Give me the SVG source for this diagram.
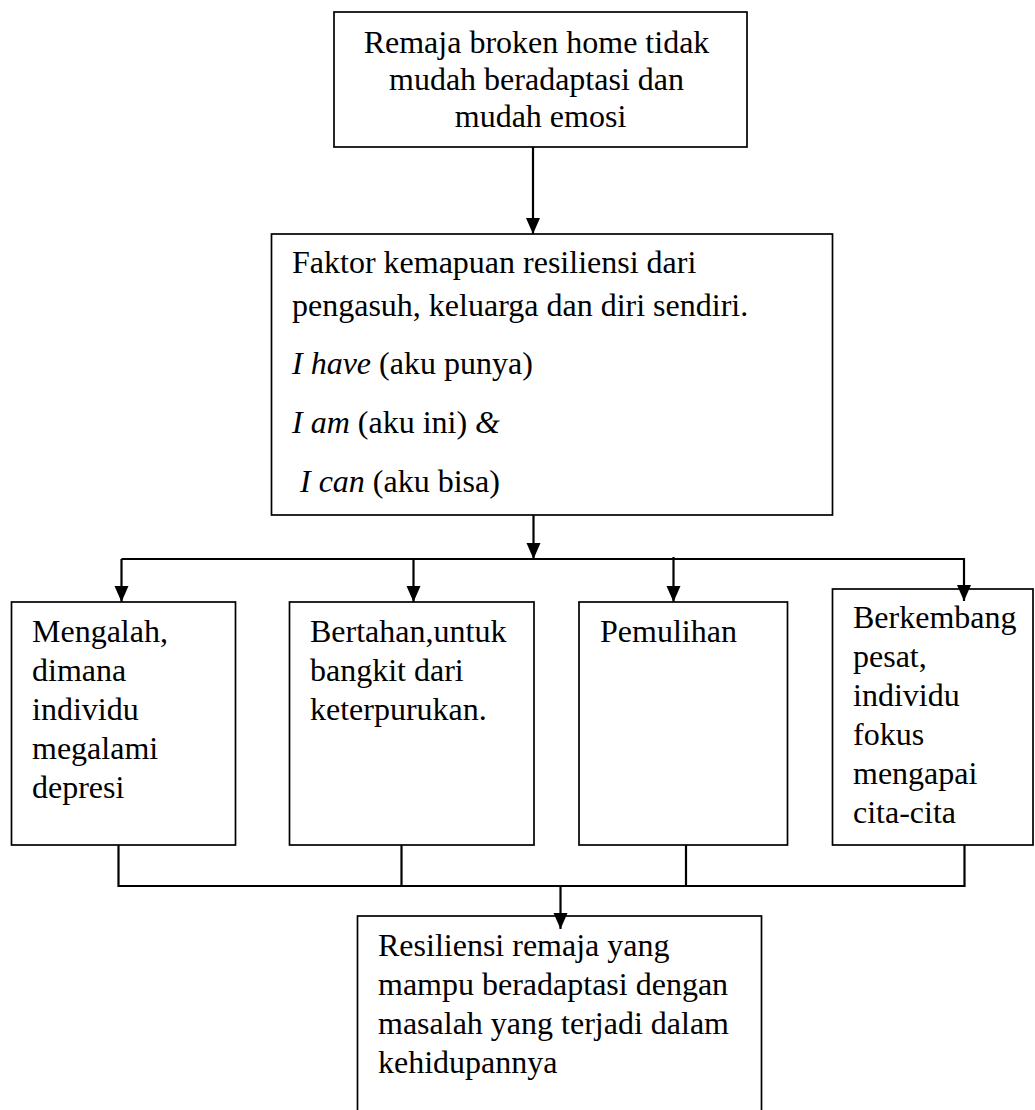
<svg xmlns="http://www.w3.org/2000/svg" width="1035" height="1110" viewBox="0 0 1035 1110">
  <style>
    .box { fill: #ffffff; stroke: #000000; stroke-width: 1.7; }
    .txt { font-family: "Liberation Serif", "Times New Roman", serif; font-size: 32px; fill: #000000; }
    .it { font-style: italic; }
    .con { fill: none; stroke: #000000; stroke-width: 2.2; }
  </style>
  <defs>
    <marker id="arrow" markerUnits="userSpaceOnUse" viewBox="0 -7.5 16 15" markerWidth="16" markerHeight="15" refX="16" refY="0" orient="auto">
      <path d="M0,-7 L16,0 L0,7 Z" fill="#000000"/>
    </marker>
  </defs>
  <rect x="0" y="0" width="1035" height="1110" fill="#ffffff"/>

  <g id="node-top">
    <rect class="box" x="334" y="12" width="413" height="135"/>
    <text class="txt" text-anchor="middle">
      <tspan x="540.5" y="53">Remaja broken home tidak</tspan>
      <tspan x="540.5" y="90">mudah beradaptasi dan</tspan>
      <tspan x="540.5" y="127">mudah emosi</tspan>
    </text>
  </g>

  <g id="node-faktor">
    <rect class="box" x="271.5" y="234" width="561" height="281"/>
    <text class="txt">
      <tspan x="292" y="273">Faktor kemapuan resiliensi dari</tspan>
      <tspan x="292" y="316">pengasuh, keluarga dan diri sendiri.</tspan>
    </text>
    <text class="txt" x="292" y="374"><tspan class="it">I have</tspan> (aku punya)</text>
    <text class="txt" x="292" y="433"><tspan class="it">I am</tspan> (aku ini) <tspan class="it">&amp;</tspan></text>
    <text class="txt" x="300" y="492"><tspan class="it">I can</tspan> (aku bisa)</text>
  </g>

  <g id="node-mengalah">
    <rect class="box" x="11.5" y="602" width="224" height="243"/>
    <text class="txt">
      <tspan x="32" y="642">Mengalah,</tspan>
      <tspan x="32" y="681">dimana</tspan>
      <tspan x="32" y="720">individu</tspan>
      <tspan x="32" y="759">megalami</tspan>
      <tspan x="32" y="798">depresi</tspan>
    </text>
  </g>

  <g id="node-bertahan">
    <rect class="box" x="289.5" y="602" width="244.5" height="243"/>
    <text class="txt">
      <tspan x="310" y="642">Bertahan,untuk</tspan>
      <tspan x="310" y="681">bangkit dari</tspan>
      <tspan x="310" y="720">keterpurukan.</tspan>
    </text>
  </g>

  <g id="node-pemulihan">
    <rect class="box" x="579" y="602" width="208.5" height="243"/>
    <text class="txt" x="600" y="642">Pemulihan</text>
  </g>

  <g id="node-berkembang">
    <rect class="box" x="832.5" y="589" width="200.5" height="256"/>
    <text class="txt">
      <tspan x="853" y="628">Berkembang</tspan>
      <tspan x="853" y="667">pesat,</tspan>
      <tspan x="853" y="706">individu</tspan>
      <tspan x="853" y="745">fokus</tspan>
      <tspan x="853" y="784">mengapai</tspan>
      <tspan x="853" y="823">cita-cita</tspan>
    </text>
  </g>

  <g id="node-resiliensi">
    <rect class="box" x="357.5" y="916" width="404" height="220"/>
    <text class="txt">
      <tspan x="378" y="956">Resiliensi remaja yang</tspan>
      <tspan x="378" y="995">mampu beradaptasi dengan</tspan>
      <tspan x="378" y="1034">masalah yang terjadi dalam</tspan>
      <tspan x="378" y="1073">kehidupannya</tspan>
    </text>
  </g>

  <g id="connectors">
    <line class="con" x1="533" y1="147" x2="533" y2="234" marker-end="url(#arrow)"/>
    <line class="con" x1="533.5" y1="515" x2="533.5" y2="559" marker-end="url(#arrow)"/>
    <line class="con" x1="121.5" y1="559" x2="964" y2="559"/>
    <line class="con" x1="121.5" y1="559" x2="121.5" y2="602" marker-end="url(#arrow)"/>
    <line class="con" x1="413.5" y1="559" x2="413.5" y2="602" marker-end="url(#arrow)"/>
    <line class="con" x1="673.5" y1="557" x2="673.5" y2="602" marker-end="url(#arrow)"/>
    <line class="con" x1="964" y1="558" x2="964" y2="601" marker-end="url(#arrow)"/>
    <polyline class="con" points="118.5,845 118.5,886 964.5,886 964.5,845"/>
    <line class="con" x1="401.5" y1="845" x2="401.5" y2="886"/>
    <line class="con" x1="686" y1="845" x2="686" y2="886"/>
    <line class="con" x1="560.5" y1="886" x2="560.5" y2="929" marker-end="url(#arrow)"/>
  </g>
</svg>
